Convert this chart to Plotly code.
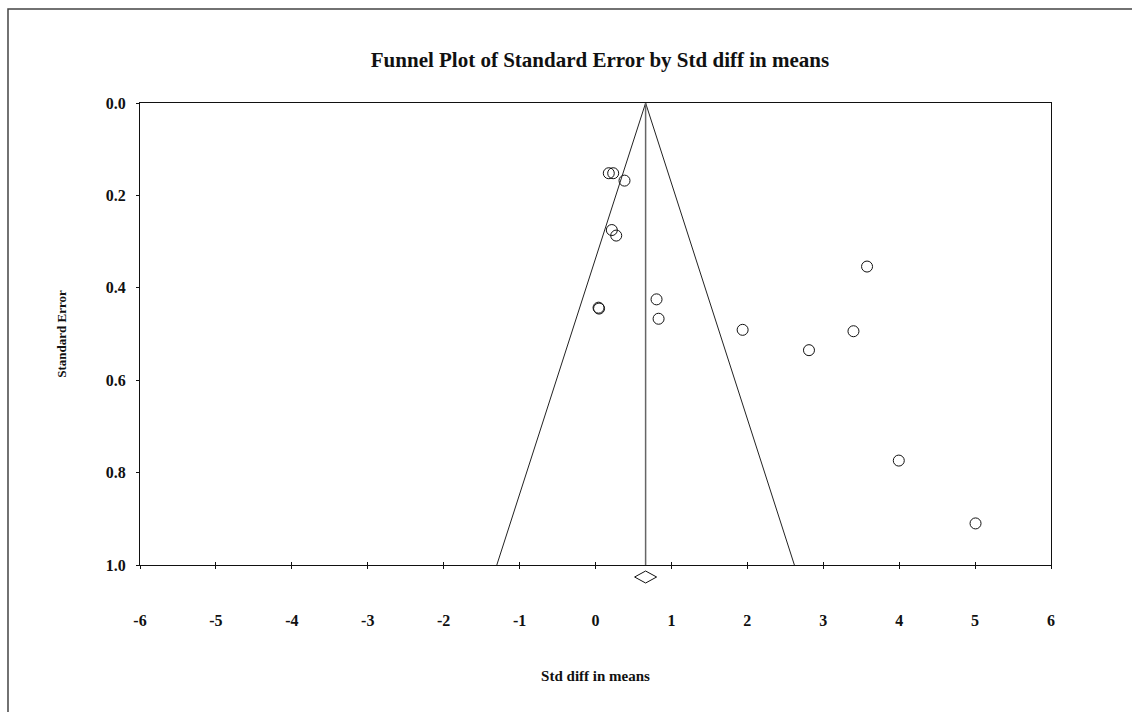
import plotly.graph_objects as go

# Study-level effect sizes (Std diff in means) and their standard errors
std_diff = [0.175, 0.233, 0.382, 0.215, 0.273, 0.040, 0.047, 0.804, 0.831,
            1.938, 3.577, 3.398, 2.812, 3.995, 5.006]
std_err = [0.152, 0.152, 0.168, 0.275, 0.287, 0.443, 0.445, 0.425, 0.467,
           0.491, 0.354, 0.494, 0.535, 0.774, 0.910]

# Pooled estimate and its confidence interval
summary_effect = 0.66
summary_ci = [0.515, 0.805]
z_crit = 1.96

x_ticks = [-6, -5, -4, -3, -2, -1, 0, 1, 2, 3, 4, 5, 6]
y_ticks = [0.0, 0.2, 0.4, 0.6, 0.8, 1.0]
y_tick_text = ["0.0", "0.2", "0.4", "0.6", "0.8", "1.0"]

SERIF = "Liberation Serif, Times New Roman, serif"
se_max = max(y_ticks)

fig = go.Figure()

# Funnel: pooled effect ± 1.96 * SE
fig.add_trace(go.Scatter(
    x=[summary_effect - z_crit * se_max, summary_effect, summary_effect + z_crit * se_max],
    y=[se_max, 0.0, se_max],
    mode="lines", line=dict(color="#222222", width=1),
    hoverinfo="skip", showlegend=False))

# Vertical line at the pooled effect
fig.add_trace(go.Scatter(
    x=[summary_effect, summary_effect], y=[0.0, se_max],
    mode="lines", line=dict(color="#666666", width=1.5),
    hoverinfo="skip", showlegend=False))

# Individual studies
fig.add_trace(go.Scatter(
    x=std_diff, y=std_err, mode="markers",
    marker=dict(symbol="circle-open", size=11, color="#111111",
                line=dict(width=1, color="#111111")),
    showlegend=False))

# Pooled-effect diamond below the axis
dy = 0.013
y_c = -0.026
fig.add_shape(
    type="path", xref="x", yref="paper",
    path=(f"M {summary_ci[0]},{y_c} L {summary_effect},{y_c + dy} "
          f"L {summary_ci[1]},{y_c} L {summary_effect},{y_c - dy} Z"),
    line=dict(color="#111111", width=1), fillcolor="white")

# Outer chart frame
fig.add_shape(
    type="rect", xref="paper", yref="paper",
    x0=-0.1449, x1=1.2, y0=-0.6, y1=1.2035,
    line=dict(color="#444444", width=1.5), fillcolor="rgba(0,0,0,0)",
    layer="below")

fig.update_layout(
    width=1132, height=712,
    margin=dict(l=140, r=81, t=103, b=147),
    paper_bgcolor="white", plot_bgcolor="white",
    font=dict(family=SERIF, color="#111111"),
    title=dict(text="<b>Funnel Plot of Standard Error by Std diff in means</b>",
               x=0.53, xanchor="center", y=0.916, yanchor="middle",
               font=dict(family=SERIF, size=21, color="#111111")),
    xaxis=dict(
        range=[-6, 6], tickvals=x_ticks,
        ticktext=[f"<b>{v}</b>" for v in x_ticks],
        showgrid=False, zeroline=False,
        showline=True, mirror=True, linecolor="#111111", linewidth=1,
        ticks="outside", ticklen=3, tickcolor="#111111",
        ticklabelstandoff=38,
        tickfont=dict(family=SERIF, size=16, color="#111111"),
        title=dict(text="<b>Std diff in means</b>", standoff=42,
                   font=dict(family=SERIF, size=15, color="#111111"))),
    yaxis=dict(
        range=[1.0, 0.0], tickvals=y_ticks,
        ticktext=[f"<b>{t}</b>" for t in y_tick_text],
        showgrid=False, zeroline=False,
        showline=True, mirror=True, linecolor="#111111", linewidth=1,
        ticks="outside", ticklen=3, tickcolor="#111111",
        ticklabelstandoff=7,
        tickfont=dict(family=SERIF, size=16, color="#111111"),
        title=dict(text="<b>Standard Error</b>", standoff=36,
                   font=dict(family=SERIF, size=13, color="#111111"))),
    # Overlay axis used only for the inside half of the x tick marks
    xaxis2=dict(
        range=[-6, 6], tickvals=x_ticks, overlaying="x", side="bottom",
        anchor="y", showticklabels=False, showgrid=False, zeroline=False,
        ticks="inside", ticklen=3, tickcolor="#111111", showline=False),
)

fig.add_trace(go.Scatter(x=[None], y=[None], xaxis="x2", yaxis="y",
                         showlegend=False, hoverinfo="skip"))

fig.write_html("out.html")
